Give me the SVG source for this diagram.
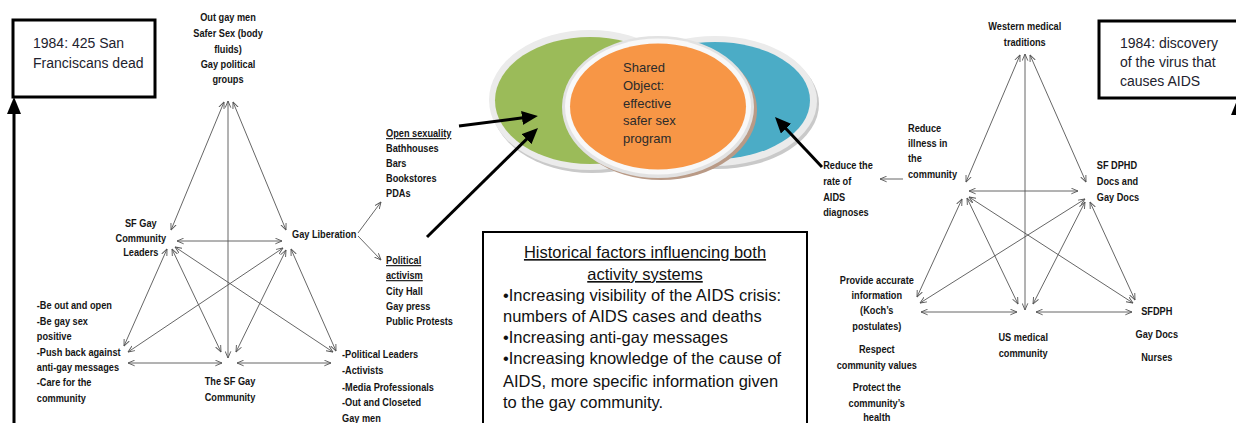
<svg xmlns="http://www.w3.org/2000/svg" width="1236" height="423" viewBox="0 0 1236 423">
  <style>
    .lb { font-family: "Liberation Sans", Arial, sans-serif; font-weight: bold; font-size: 11.5px; fill: #151515; }
    .mid { text-anchor: middle; }
    .ul { text-decoration: underline; }
    .note { font-family: "Liberation Sans", Arial, sans-serif; font-size: 14px; fill: #22222e; }
    .body { font-family: "Liberation Sans", Arial, sans-serif; font-size: 16.5px; fill: #111; }
    .venn { font-family: "Liberation Sans", Arial, sans-serif; font-size: 13px; fill: #2b2b2b; }
    .thin { stroke: #555; stroke-width: 0.9; fill: none; marker-start: url(#v); marker-end: url(#v); }
    .one { stroke: #555; stroke-width: 0.9; fill: none; marker-end: url(#v); }
    .thick { stroke: #000; stroke-width: 3; fill: none; marker-end: url(#big); }
    .frame { fill: #fff; stroke: #000; stroke-width: 3; }
  </style>
  <defs>
    <marker id="v" viewBox="0 0 10 10" refX="9.5" refY="5" markerWidth="7" markerHeight="7" markerUnits="userSpaceOnUse" orient="auto-start-reverse">
      <path d="M0,1 L9.5,5 L0,9" fill="none" stroke="#555" stroke-width="1.3"/>
    </marker>
    <marker id="big" viewBox="0 0 16 14" refX="3" refY="7" markerWidth="16" markerHeight="14" markerUnits="userSpaceOnUse" orient="auto">
      <path d="M0,0 L16,7 L0,14 z" fill="#000"/>
    </marker>
  </defs>

  <rect width="1236" height="423" fill="#fff"/>

  <!-- timeline notes -->
  <g id="note-left">
    <rect class="frame" x="13" y="20" width="142" height="77"/>
    <text class="note" x="33" y="48">1984: 425 San</text>
    <text class="note" x="33" y="68">Franciscans dead</text>
  </g>
  <g id="note-right">
    <rect class="frame" x="1099" y="21" width="150" height="77"/>
    <text class="note" x="1120" y="48">1984: discovery</text>
    <text class="note" x="1120" y="67">of the virus that</text>
    <text class="note" x="1120" y="86">causes AIDS</text>
  </g>

  <!-- shared object venn -->
  <g id="venn">
    <ellipse cx="592" cy="103" rx="101" ry="70" fill="#c9c9c9"/>
    <ellipse cx="590" cy="100" rx="101" ry="70" fill="#ebebeb"/>
    <ellipse cx="590" cy="100.5" rx="95" ry="63.5" fill="#9bbb59"/>
    <ellipse cx="717" cy="104" rx="102" ry="65" fill="#c9c9c9"/>
    <ellipse cx="715" cy="101" rx="102" ry="65" fill="#ebebeb"/>
    <ellipse cx="715" cy="100.5" rx="95" ry="58.5" fill="#4bacc6"/>
    <ellipse cx="661" cy="110" rx="96" ry="70" fill="#b99a86"/>
    <ellipse cx="658" cy="107" rx="96" ry="71" fill="#e2e2e2"/>
    <ellipse cx="658" cy="106.5" rx="93" ry="68" fill="#f8f8f8"/>
    <ellipse cx="658" cy="106.5" rx="88" ry="63" fill="#f79646"/>
    <text class="venn" x="623" y="72">Shared</text>
    <text class="venn" x="623" y="90">Object:</text>
    <text class="venn" x="623" y="108">effective</text>
    <text class="venn" x="623" y="125">safer sex</text>
    <text class="venn" x="623" y="143">program</text>
  </g>

  <!-- historical factors -->
  <g id="factors">
    <rect x="483" y="232" width="324" height="200" fill="#fff" stroke="#000" stroke-width="2"/>
    <text class="body mid ul" x="645" y="258">Historical factors influencing both</text>
    <text class="body mid ul" x="645" y="280">activity systems</text>
    <text class="body" x="503" y="301">•Increasing visibility of the AIDS crisis:</text>
    <text class="body" x="503" y="322">numbers of AIDS cases and deaths</text>
    <text class="body" x="503" y="343">•Increasing anti-gay messages</text>
    <text class="body" x="503" y="364">•Increasing knowledge of the cause of</text>
    <text class="body" x="503" y="387">AIDS, more specific information given</text>
    <text class="body" x="503" y="408">to the gay community.</text>
  </g>

  <!-- labels are set in a narrowed bold face: each group is squeezed to 80% width,
       so x positions inside are page x / 0.8 -->

  <!-- left activity system: SF gay community -->
  <g id="gay-tools" transform="scale(0.8 1)">
    <text class="lb mid" x="285" y="21">Out gay men</text>
    <text class="lb mid" x="285" y="37">Safer Sex (body</text>
    <text class="lb mid" x="285" y="53">fluids)</text>
    <text class="lb mid" x="285" y="68">Gay political</text>
    <text class="lb mid" x="285" y="83">groups</text>
  </g>
  <g id="gay-subject" transform="scale(0.8 1)">
    <text class="lb mid" x="176" y="227">SF Gay</text>
    <text class="lb mid" x="176" y="242">Community</text>
    <text class="lb mid" x="176" y="256">Leaders</text>
  </g>
  <g id="gay-object" transform="scale(0.8 1)">
    <text class="lb" x="365" y="238">Gay Liberation</text>
  </g>
  <g id="gay-open" transform="scale(0.8 1)">
    <text class="lb ul" x="482.5" y="137">Open sexuality</text>
    <text class="lb" x="482.5" y="152">Bathhouses</text>
    <text class="lb" x="482.5" y="167">Bars</text>
    <text class="lb" x="482.5" y="182">Bookstores</text>
    <text class="lb" x="482.5" y="197">PDAs</text>
  </g>
  <g id="gay-political" transform="scale(0.8 1)">
    <text class="lb ul" x="482.5" y="264">Political</text>
    <text class="lb ul" x="482.5" y="279">activism</text>
    <text class="lb" x="482.5" y="295">City Hall</text>
    <text class="lb" x="482.5" y="310">Gay press</text>
    <text class="lb" x="482.5" y="325">Public Protests</text>
  </g>
  <g id="gay-rules" transform="scale(0.8 1)">
    <text class="lb" x="46" y="309">-Be out and open</text>
    <text class="lb" x="46" y="325">-Be gay sex</text>
    <text class="lb" x="46" y="340">positive</text>
    <text class="lb" x="46" y="356">-Push back against</text>
    <text class="lb" x="46" y="371">anti-gay messages</text>
    <text class="lb" x="46" y="386">-Care for the</text>
    <text class="lb" x="46" y="402">community</text>
  </g>
  <g id="gay-community" transform="scale(0.8 1)">
    <text class="lb mid" x="287.5" y="385">The SF Gay</text>
    <text class="lb mid" x="287.5" y="401">Community</text>
  </g>
  <g id="gay-division" transform="scale(0.8 1)">
    <text class="lb" x="427.5" y="358">-Political Leaders</text>
    <text class="lb" x="427.5" y="374">-Activists</text>
    <text class="lb" x="427.5" y="391">-Media Professionals</text>
    <text class="lb" x="427.5" y="406">-Out and Closeted</text>
    <text class="lb" x="427.5" y="422">Gay men</text>
  </g>

  <!-- right activity system: medical community -->
  <g id="med-tools" transform="scale(0.8 1)">
    <text class="lb mid" x="1281" y="30">Western medical</text>
    <text class="lb mid" x="1281" y="46">traditions</text>
  </g>
  <g id="med-object" transform="scale(0.8 1)">
    <text class="lb" x="1135" y="132">Reduce</text>
    <text class="lb" x="1135" y="147">illness in</text>
    <text class="lb" x="1135" y="162">the</text>
    <text class="lb" x="1135" y="178">community</text>
  </g>
  <g id="med-outcome" transform="scale(0.8 1)">
    <text class="lb" x="1029" y="169">Reduce the</text>
    <text class="lb" x="1029" y="185">rate of</text>
    <text class="lb" x="1029" y="201">AIDS</text>
    <text class="lb" x="1029" y="216">diagnoses</text>
  </g>
  <g id="med-subject" transform="scale(0.8 1)">
    <text class="lb" x="1371" y="169">SF DPHD</text>
    <text class="lb" x="1371" y="185">Docs and</text>
    <text class="lb" x="1371" y="201">Gay Docs</text>
  </g>
  <g id="med-rules" transform="scale(0.8 1)">
    <text class="lb mid" x="1096" y="284">Provide accurate</text>
    <text class="lb mid" x="1096" y="299">information</text>
    <text class="lb mid" x="1096" y="314">(Koch’s</text>
    <text class="lb mid" x="1096" y="330">postulates)</text>
    <text class="lb mid" x="1096" y="353">Respect</text>
    <text class="lb mid" x="1096" y="369">community values</text>
    <text class="lb mid" x="1096" y="391">Protect the</text>
    <text class="lb mid" x="1096" y="407">community’s</text>
    <text class="lb mid" x="1096" y="421">health</text>
  </g>
  <g id="med-community" transform="scale(0.8 1)">
    <text class="lb mid" x="1279" y="341">US medical</text>
    <text class="lb mid" x="1279" y="357">community</text>
  </g>
  <g id="med-division" transform="scale(0.8 1)">
    <text class="lb mid" x="1446" y="315">SFDPH</text>
    <text class="lb mid" x="1446" y="338">Gay Docs</text>
    <text class="lb mid" x="1446" y="361">Nurses</text>
  </g>

  <!-- connectors -->
  <g id="connectors">
    <!-- left triangle -->
    <line class="thin" x1="224" y1="102" x2="171" y2="230"/>
    <line class="thin" x1="233" y1="102" x2="286" y2="230"/>
    <line class="thin" x1="228" y1="101" x2="228" y2="358"/>
    <line class="thin" x1="177" y1="241" x2="282" y2="241"/>
    <line class="thin" x1="167" y1="249" x2="124" y2="346"/>
    <line class="thin" x1="172" y1="249" x2="221" y2="352"/>
    <line class="thin" x1="175" y1="247" x2="333" y2="352"/>
    <line class="thin" x1="283" y1="248" x2="128" y2="352"/>
    <line class="thin" x1="286" y1="250" x2="236" y2="352"/>
    <line class="thin" x1="291" y1="249" x2="336" y2="351"/>
    <line class="thin" x1="128" y1="363" x2="222" y2="363"/>
    <line class="thin" x1="237" y1="363" x2="331" y2="363"/>
    <line class="one" x1="358" y1="233" x2="381" y2="202"/>
    <line class="one" x1="358" y1="236" x2="381" y2="260"/>

    <!-- right triangle -->
    <line class="thin" x1="1020" y1="55" x2="966" y2="182"/>
    <line class="thin" x1="1030" y1="55" x2="1086" y2="182"/>
    <line class="thin" x1="1025" y1="54" x2="1025" y2="310"/>
    <line class="thin" x1="969" y1="191" x2="1078" y2="191"/>
    <line class="thin" x1="962" y1="199" x2="917" y2="297"/>
    <line class="thin" x1="967" y1="198" x2="1018" y2="304"/>
    <line class="thin" x1="969" y1="197" x2="1133" y2="303"/>
    <line class="thin" x1="1085" y1="199" x2="920" y2="303"/>
    <line class="thin" x1="1085" y1="202" x2="1033" y2="304"/>
    <line class="thin" x1="1090" y1="202" x2="1135" y2="300"/>
    <line class="thin" x1="921" y1="312" x2="1017" y2="312"/>
    <line class="thin" x1="1036" y1="312" x2="1132" y2="312"/>
    <line class="one" x1="903" y1="179" x2="880" y2="179"/>

    <!-- into the shared object -->
    <line class="thick" x1="459" y1="126" x2="525" y2="117.6"/>
    <line class="thick" x1="427" y1="237" x2="528.7" y2="137.1"/>
    <line class="thick" x1="822" y1="167" x2="783.9" y2="126.5"/>

    <!-- timeline arrows -->
    <line x1="14" y1="112" x2="14" y2="423" stroke="#000" stroke-width="3"/>
    <polygon points="14,97 7,114 21,114" fill="#000"/>
    <line x1="1238" y1="112" x2="1238" y2="423" stroke="#000" stroke-width="3"/>
    <polygon points="1238,98 1231,115 1245,115" fill="#000"/>
  </g>
</svg>
